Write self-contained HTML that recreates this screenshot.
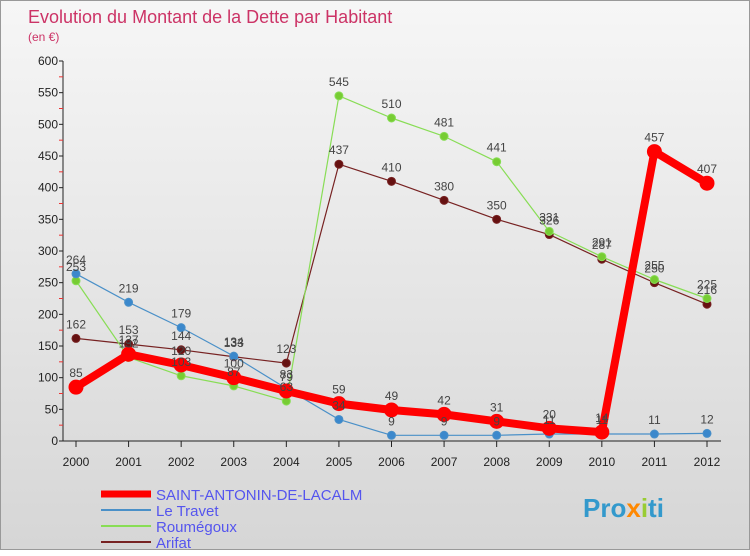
<!DOCTYPE html>
<html><head><meta charset="utf-8"><style>
body{margin:0;width:750px;height:550px;overflow:hidden;font-family:"Liberation Sans",sans-serif}
#c{position:absolute;left:0;top:0;width:748px;height:548px;border:1px solid #999;background:linear-gradient(#f6f6f6,#d6d6d6)}
svg text{font-family:"Liberation Sans",sans-serif}
</style></head><body>
<div id="c">
<svg width="750" height="550" id="s">
<text x="27" y="22" font-size="18" fill="#cc3366">Evolution du Montant de la Dette par Habitant</text>
<text x="27" y="40" font-size="12" fill="#cc3366">(en €)</text>
<g id="ax"></g><g id="ser"></g><g id="lab"></g>
<g>
<line x1="100" y1="493" x2="150" y2="493" stroke="#ff0000" stroke-width="7"/>
<text x="155" y="499" font-size="15" fill="#5555ee">SAINT-ANTONIN-DE-LACALM</text>
<line x1="100" y1="509" x2="150" y2="509" stroke="#4a90c8" stroke-width="2"/>
<text x="155" y="515" font-size="15" fill="#5555ee">Le Travet</text>
<line x1="100" y1="525" x2="150" y2="525" stroke="#88dd55" stroke-width="2"/>
<text x="155" y="531" font-size="15" fill="#5555ee">Roumégoux</text>
<line x1="100" y1="541" x2="150" y2="541" stroke="#772222" stroke-width="2"/>
<text x="155" y="547" font-size="15" fill="#5555ee">Arifat</text>
</g>
<text x="582" y="516" font-size="26" font-weight="bold" fill="#3399cc">Pro<tspan fill="#ff8800">x</tspan><tspan fill="#99cc33">i</tspan>ti</text>
</svg></div>
<script>
const years=[2000,2001,2002,2003,2004,2005,2006,2007,2008,2009,2010,2011,2012];
const yTicks=[0,50,100,150,200,250,300,350,400,450,500,550,600];
const saint=[85,137,120,100,79,59,49,42,31,20,14,457,407];
const travet=[264,219,179,134,83,34,9,9,9,11,11,11,12];
const roum=[253,132,103,87,63,545,510,481,441,331,291,255,225];
const arifat=[162,153,144,133,123,437,410,380,350,326,287,250,216];
const NS="http://www.w3.org/2000/svg";
const X=i=>75+i*(706-75)/12, Y=v=>440-v*(380/600);
function mk(t,a,p){const e=document.createElementNS(NS,t);for(const k in a)e.setAttribute(k,a[k]);p.appendChild(e);return e;}
const ax=document.getElementById('ax');
let e=mk('line',{x1:62,y1:60,x2:62,y2:440,stroke:'#222'},ax);

e=mk('line',{x1:62,y1:440,x2:720,y2:440,stroke:'#222'},ax);

yTicks.forEach(v=>{const t=mk('text',{x:57,y:Y(v)+4,'font-size':12,'text-anchor':'end',fill:'#222'},ax);t.textContent=v;

mk('line',{x1:58,y1:Y(v),x2:62,y2:Y(v),stroke:'#222'},ax);
if(v<600)mk('line',{x1:58,y1:Y(v+25),x2:62,y2:Y(v+25),stroke:'#e33'},ax);});
years.forEach((y,i)=>{const t=mk('text',{x:X(i),y:465,'font-size':12,'text-anchor':'middle',fill:'#222'},ax);t.textContent=y;

mk('line',{x1:X(i),y1:440,x2:X(i),y2:446,stroke:'#222'},ax);});
const ser=document.getElementById('ser'),lab=document.getElementById('lab');
function draw(d,col,w,r,name,dot){
const p=mk('polyline',{points:d.map((v,i)=>X(i)+','+Y(v)).join(' '),fill:'none',stroke:col,'stroke-width':w,'stroke-linejoin':'round'},ser);

d.forEach((v,i)=>{const c=mk('circle',{cx:X(i),cy:Y(v),r:r,fill:dot,stroke:col,'stroke-width':1},ser);

const t=mk('text',{x:X(i),y:Y(v)-10,'font-size':12,'text-anchor':'middle',fill:'#444'},lab);t.textContent=v;
});}
draw(arifat,'#772222',1.2,4,'arifat','#661111');
draw(roum,'#88dd55',1.2,4,'roumegoux','#77cc33');
draw(travet,'#4a90c8',1.2,4,'le-travet','#3b88cc');
draw(saint,'#ff0000',8,7,'saint-antonin','#ff0000');
</script>
</body></html>
